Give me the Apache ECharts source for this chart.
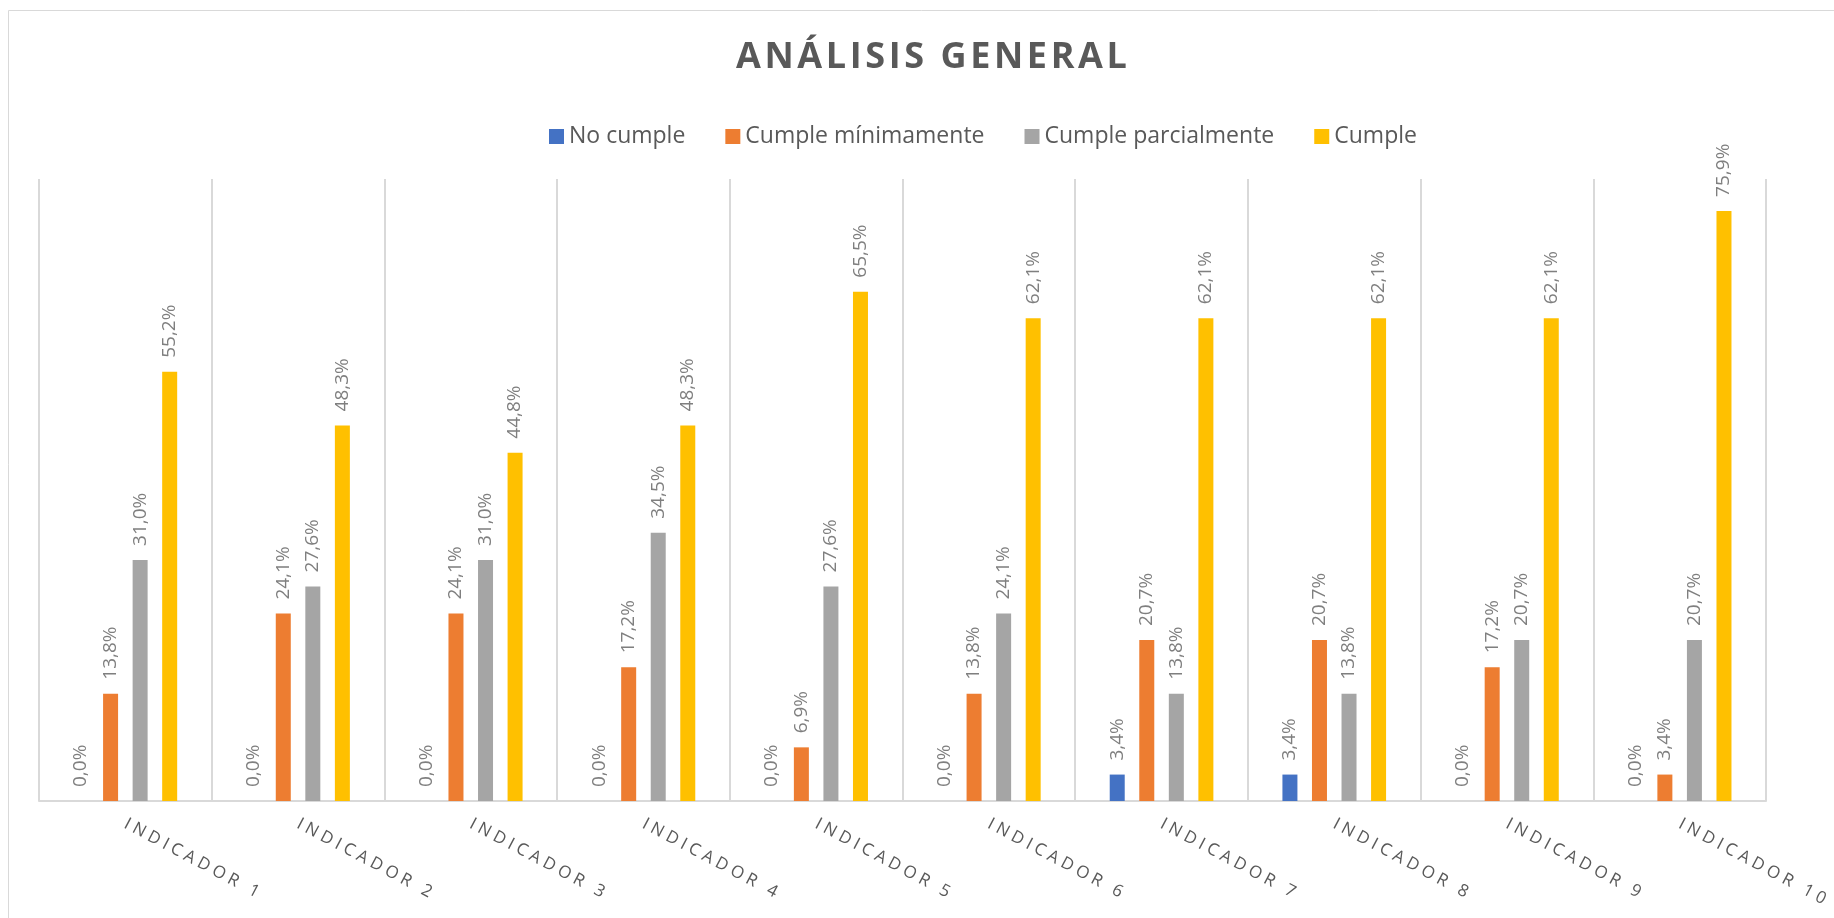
<!DOCTYPE html>
<html>
<head>
<meta charset="utf-8">
<title>Análisis general</title>
<script src="https://cdn.jsdelivr.net/npm/echarts@6/dist/echarts.min.js"></script>
<style>
html, body { margin: 0; padding: 0; background: #fff; }
#chartmain { width: 1834px; height: 918px; }
</style>
</head>
<body>
<div id="chartmain"></div>
<script>
var indicadores = ['Indicador 1', 'Indicador 2', 'Indicador 3', 'Indicador 4', 'Indicador 5',
    'Indicador 6', 'Indicador 7', 'Indicador 8', 'Indicador 9', 'Indicador 10'];
var noCumple = [0.0, 0.0, 0.0, 0.0, 0.0, 0.0, 3.4, 3.4, 0.0, 0.0];
var cumpleMinimamente = [13.8, 24.1, 24.1, 17.2, 6.9, 13.8, 20.7, 20.7, 17.2, 3.4];
var cumpleParcialmente = [31.0, 27.6, 31.0, 34.5, 27.6, 24.1, 13.8, 13.8, 20.7, 20.7];
var cumple = [55.2, 48.3, 44.8, 48.3, 65.5, 62.1, 62.1, 62.1, 62.1, 75.9];

var fuente = '"Open Sans", "Noto Sans", sans-serif';

// letras separadas como en el original
function espaciar(txt, sep) {
    return txt.split('').join(sep);
}

function serie(nombre, datos) {
    return {
        name: nombre,
        type: 'bar',
        data: datos,
        barWidth: 15,
        barGap: '97%',
        barCategoryGap: '40%',
        label: {
            show: true,
            position: 'top',
            rotate: 90,
            align: 'left',
            verticalAlign: 'middle',
            distance: 14,
            color: '#7f7f7f',
            fontFamily: fuente,
            fontSize: 19,
            formatter: function (p) {
                return p.value.toFixed(1).replace('.', ',') + '%';
            }
        }
    };
}

var option = {
    animation: false,
    color: ['#4472C4', '#ED7D31', '#A5A5A5', '#FFC000'],
    title: {
        text: espaciar('ANÁLISIS GENERAL', '\u200A'),
        left: 731,
        top: 35,
        textStyle: {
            color: '#595959',
            fontFamily: fuente,
            fontWeight: 'bold',
            fontSize: 36
        }
    },
    legend: {
        left: 544,
        top: 120,
        itemWidth: 15,
        itemHeight: 15,
        itemGap: 40,
        icon: 'rect',
        textStyle: {
            color: '#595959',
            fontFamily: fuente,
            fontSize: 23
        }
    },
    graphic: [{
        type: 'rect',
        shape: { x: 8.5, y: 10.5, width: 1900, height: 1000 },
        style: { fill: 'none', stroke: '#d9d9d9', lineWidth: 1 },
        silent: true
    }],
    grid: {
        left: 39,
        right: 68,
        top: 179,
        bottom: 117
    },
    xAxis: {
        type: 'category',
        data: indicadores,
        axisLine: { lineStyle: { color: '#d9d9d9', width: 2 } },
        axisTick: { show: false },
        splitLine: { show: true, lineStyle: { color: '#d9d9d9', width: 2 } },
        axisLabel: {
            rotate: -28,
            margin: 22,
            color: '#595959',
            fontFamily: fuente,
            fontSize: 17,
            formatter: function (v) {
                return espaciar(v.toUpperCase(), ' ');
            }
        }
    },
    yAxis: {
        type: 'value',
        min: 0,
        max: 80,
        show: false,
        splitLine: { show: false }
    },
    series: [
        serie('No cumple', noCumple),
        serie('Cumple mínimamente', cumpleMinimamente),
        serie('Cumple parcialmente', cumpleParcialmente),
        serie('Cumple', cumple)
    ]
};

var myChart = echarts.init(document.getElementById('chartmain'));
myChart.setOption(option);
</script>
</body>
</html>
